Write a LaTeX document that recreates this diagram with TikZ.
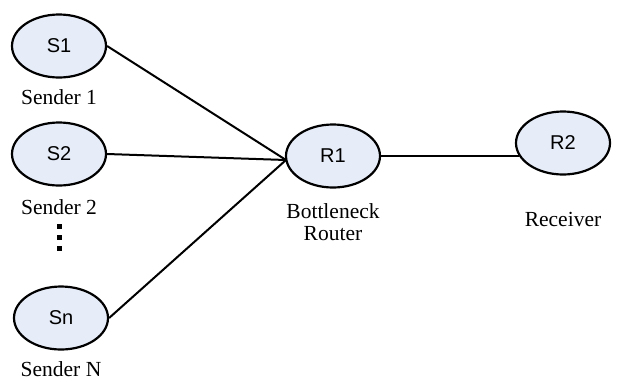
\documentclass[tikz,border=0pt]{standalone}
\usepackage{fontspec}
\setmainfont{Liberation Serif}
\newfontfamily\arialf{Liberation Sans}
\usetikzlibrary{shapes.geometric}
\definecolor{nodefill}{HTML}{E6ECF8}
\begin{document}
\begin{tikzpicture}[x=1pt,y=-1pt,
  host/.style={ellipse,draw=black,line width=2.2pt,fill=nodefill,minimum width=94pt,minimum height=63pt,inner sep=0pt,font=\arialf\fontsize{20}{20}\selectfont},
  lbl/.style={font=\fontsize{21.5}{22}\selectfont,align=center,inner sep=0pt},
  link/.style={line width=2pt},
  dotsq/.style={fill=black,minimum size=5pt,inner sep=0pt}]
\useasboundingbox (0,0) rectangle (623,381);
\node[host] (s1) at (59,46) {S1};
\node[host] (s2) at (59,154) {S2};
\node[host] (sn) at (61,318) {Sn};
\node[host] (r1) at (333,156) {R1};
\node[host] (r2) at (563,143) {R2};
\node[lbl] (l1) at (59,97) {Sender 1};
\node[lbl] (l2) at (59,207) {Sender 2};
\node[lbl] (ln) at (61,369) {Sender N};
\node[lbl] (lr1) at (333,222) {Bottleneck\\Router};
\node[lbl] (lr2) at (563,219) {Receiver};
\node[dotsq] (d1) at (59,226) {};
\node[dotsq] (d2) at (59,237) {};
\node[dotsq] (d3) at (59,248) {};
\coordinate (hub) at (286,160);
\draw[link] (s1.east) -- (hub);
\draw[link] (s2.east) -- (hub);
\draw[link] (sn.east) -- (hub);
\draw[link] (r1.east) -- (r2.197 |- r1.east);
\end{tikzpicture}
\end{document}
